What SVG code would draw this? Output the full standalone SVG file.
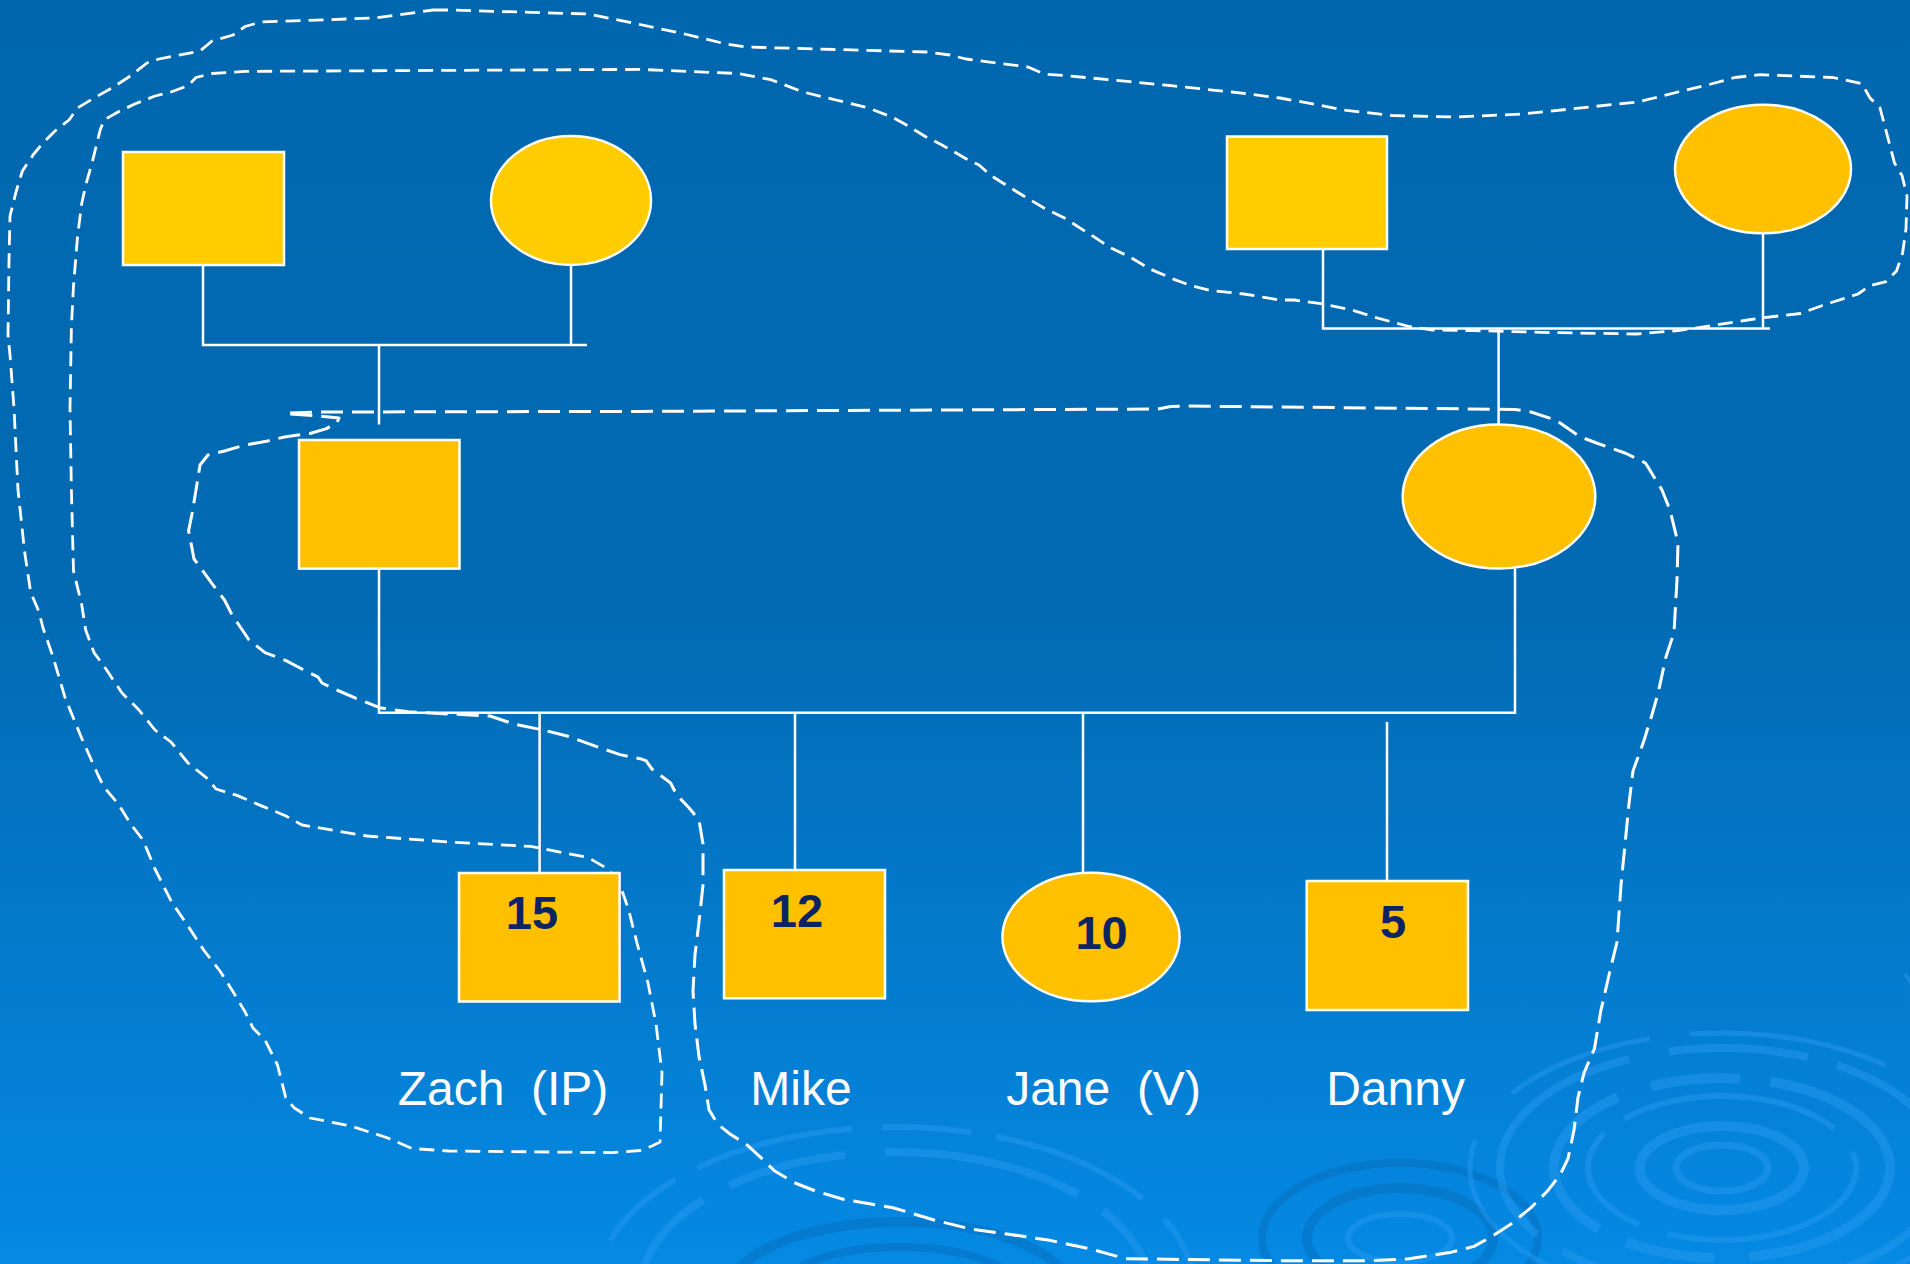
<svg xmlns="http://www.w3.org/2000/svg" width="1910" height="1264" viewBox="0 0 1910 1264">
  <defs>
    <linearGradient id="bg" x1="0" y1="0" x2="0" y2="1">
      <stop offset="0" stop-color="#0067AF"/>
      <stop offset="0.48" stop-color="#026AB3"/>
      <stop offset="1" stop-color="#0589E3"/>
    </linearGradient>
    <style>
      .male1 { fill: #FFCC00; stroke: #FFFFFF; stroke-width: 2.5; }
      .node { fill: #FFC000; stroke: #FFFFFF; stroke-width: 2.5; }
      .link { stroke: #FFFFFF; stroke-width: 2.5; fill: none; }
      .loopA { fill: none; stroke: #FFFFFF; stroke-width: 2.8; stroke-dasharray: 15 8; stroke-linejoin: round; }
      .loopB { fill: none; stroke: #FFFFFF; stroke-width: 3; stroke-dasharray: 22 9; stroke-linejoin: round; }
      .age { font-family: "Liberation Sans", Arial, sans-serif; font-weight: bold; font-size: 47px; fill: #0D2463; text-anchor: middle; }
      .name { font-family: "Liberation Sans", Arial, sans-serif; font-size: 48px; fill: #FFFFFF; text-anchor: middle; white-space: pre; }
      .rl { fill: none; stroke: #2A9BF2; opacity: 0.45; }
      .rd { fill: none; stroke: #0563B0; opacity: 0.35; }
    </style>
  </defs>

  <!-- background -->
  <rect x="0" y="0" width="1910" height="1264" fill="url(#bg)"/>

  <!-- water ripples -->
  <g id="ripples">
    <ellipse class="rl" cx="895" cy="1292" rx="300" ry="165" stroke-width="6" stroke-dasharray="160 30 90 25"/>
    <ellipse class="rl" cx="895" cy="1292" rx="255" ry="140" stroke-width="8" stroke-dasharray="120 40 200 30"/>
    <ellipse class="rd" cx="900" cy="1292" rx="170" ry="70" stroke-width="10"/>
    <ellipse class="rd" cx="900" cy="1292" rx="120" ry="45" stroke-width="8"/>
    <ellipse class="rd" cx="1400" cy="1238" rx="138" ry="75" stroke-width="8"/>
    <ellipse class="rd" cx="1400" cy="1238" rx="93" ry="50" stroke-width="10"/>
    <ellipse class="rl" cx="1400" cy="1238" rx="52" ry="24" stroke-width="6"/>
    <ellipse class="rl" cx="1722" cy="1168" rx="46" ry="23" stroke-width="7"/>
    <ellipse class="rl" cx="1722" cy="1168" rx="82" ry="42" stroke-width="10"/>
    <ellipse class="rl" cx="1722" cy="1168" rx="134" ry="72" stroke-width="6" stroke-dasharray="220 30 120 25"/>
    <ellipse class="rl" cx="1722" cy="1168" rx="168" ry="90" stroke-width="10" stroke-dasharray="180 35 90 30"/>
    <ellipse class="rl" cx="1722" cy="1168" rx="222" ry="120" stroke-width="8" stroke-dasharray="260 40 140 30"/>
    <ellipse class="rl" cx="1722" cy="1168" rx="252" ry="135" stroke-width="5" stroke-dasharray="200 60 150 40"/>
    <path class="rl" d="M1905,974 L1912,984" stroke-width="4"/>
  </g>

  <!-- dashed grouping outlines -->
  <g id="outlines">
    <path class="loopA" d="M433,10 L449,10 L588,14 L640,24.5 L689,35 L726,44 L746,47 L926,52 L950,55 L966,59 L1028,67 L1044,74 L1064,75.5 L1130,81.6 L1171,85.7 L1232,92 L1280,98 L1319,105 L1343,110 L1392,115.5 L1454,117 L1523,114 L1637,102 L1654,98 L1678,92 L1711,84 L1735,77.5 L1760,74.7 L1833,77.5 L1862,83.7 L1870,98 L1880,108 L1886,130.6 L1894.5,163 L1902,175.5 L1907,196 L1906,228.6 L1902.6,253 L1896.5,271 L1886,281.6 L1870,285.7 L1858,294 L1833,302 L1821,306 L1800.6,313.5 L1764,317.6 L1747.6,320 L1711,325.7 L1678,330.6 L1637,334 L1556,332.7 L1474,330.6 L1433,330 L1409,326.5 L1376,317.6 L1351.6,310 L1323,304 L1294.5,300 L1280,300 L1244,294 L1211,290.6 L1191,285.7 L1174.7,279.6 L1150,269 L1130,257 L1109,247 L1097,238.8 L1081,228.6 L1064.5,218 L1044,208 L1023.7,196 L1007,185.7 L991,175.5 L979,165 L966.5,159 L942,145 L925.7,136.7 L909,126.5 L893,117.5 L868.6,108 L836,100 L803,92 L770.6,79.6 L738,73.5 L640,69.4 L245,71.4 L212,73.5 L196,77.5 L188,85.7 L171,92 L155,96 L134.7,104 L118,112 L104,120 L100,130.6 L96,147 L92,163 L86,184 L81.6,204 L77.5,237 L73.5,286 L71.4,326.5 L70,408 L71.4,490 L73.5,571 L81.6,604 L85.7,630 L94,652.6 L106,669 L122,693 L139,710 L155,730 L171,742 L188,763 L208,779 L216,789 L237,795.4 L261,805.6 L286,816 L302,825 L367,836 L449,842 L530.6,846.4 L588,857.5 L608,869 L620,885 L628.6,909.7 L636.7,942 L648,983 L656,1024 L662,1073 L660,1142 L652,1146 L640,1150.5 L612,1152.6 L449,1151 L412,1148.5 L387.8,1138 L351,1126 L310,1118 L294,1107.7 L285.7,1097.5 L277.5,1065 L265,1040 L253,1028 L245,1011.8 L232.6,991 L220,971 L204,950.5 L188,926 L171.4,901.6 L155,869 L143,840 L130.6,824 L118,803.6 L104,787 L98,775 L81.6,738 L65,697.5 L53,656.7 L43,628 L39,612 L30.6,592 L24.5,551 L18,490 L14,408 L10,355 L8,335 L9,261 L10,216 L16,192 L22.4,171 L33,155 L43,143 L55,131 L69,120 L77.5,108 L94,98 L112,88 L131,75.5 L147,63 L159,59 L200,51 L212,41 L233,35 L245,26.5 L261,22 L375,18 L394,15.5 Z"/>
    <path class="loopB" d="M290,413 L320,412 L640,411.4 L1158,409 L1170.6,406.5 L1183,406 L1280,407 L1515,409.4 L1531,412 L1555.7,420 L1580,436.7 L1596.5,443 L1625,453 L1645.5,463 L1662,490 L1670,510 L1678,543 L1677,579.6 L1674,632.6 L1666,656.7 L1658,693.4 L1651.6,716 L1643.5,742 L1633,771 L1629,803.6 L1625,844.4 L1621,885 L1617,942 L1609,975 L1600.6,1011.8 L1594.5,1048.5 L1584,1073 L1578,1097.5 L1574,1130 L1568,1158.7 L1560,1175 L1547.5,1191 L1531,1207.7 L1511,1224 L1492.5,1236 L1474,1246.4 L1449.6,1252.6 L1409,1258.7 L1372,1260.7 L1280,1260.7 L1125.7,1258.7 L1089,1248.5 L1048,1240 L1007,1234 L970.6,1229 L934,1220 L893,1207.7 L844,1199.5 L815.5,1191 L795,1183 L774.7,1171 L762,1158.7 L746,1144 L730,1134 L717.6,1124 L709,1109.7 L705,1085 L699,1056.6 L695,1024 L693,991 L695,954.6 L699,922 L703,885 L703,844 L699,820 L689,807.7 L676.7,795 L670.6,783 L660,775 L652,769 L646,760.7 L640,758.7 L620,754.6 L596,746.4 L567,736 L543,730 L514,724 L490,716 L449,714 L408,711.8 L379.6,707.7 L359,699.5 L339,691 L322,683 L318,677 L302,669 L286,660.7 L265,652.6 L249,640 L241,628 L232.6,616 L224.5,600 L212,583.7 L200,567 L194,559 L188.6,530.6 L192,514 L196,490 L200,465 L208,455 L224.5,451 L245,445 L265,441.6 L285.7,436.7 L310,433.5 L326.5,428.6 L337,422.4 L339,418 L314,415.5 L290,414"/>
  </g>

  <!-- family lines -->
  <g id="connectors">
    <path class="link" d="M203,265 V345 H587 M571,265 V345 M379,345 V424.5"/>
    <path class="link" d="M1323,233.5 V328.6 H1770 M1763,233 V328.6 M1498.6,328.6 V424.5"/>
    <path class="link" d="M379,568.6 V712.8 H1515 V568.6"/>
    <path class="link" d="M539.6,712.8 V872 M795,712.8 V870 M1083,712.8 V872 M1387,722 V881"/>
  </g>

  <!-- grandparents -->
  <g id="grandfather-paternal"><rect class="male1" x="123" y="152" width="161" height="113"/></g>
  <g id="grandmother-paternal"><ellipse class="male1" cx="571" cy="200.5" rx="80" ry="64.5"/></g>
  <g id="grandfather-maternal"><rect class="male1" x="1227" y="136.5" width="160" height="112.5"/></g>
  <g id="grandmother-maternal"><ellipse class="node" cx="1763" cy="169" rx="88" ry="64.3"/></g>

  <!-- parents -->
  <g id="father"><rect class="node" x="299" y="440" width="160.5" height="128.6"/></g>
  <g id="mother"><ellipse class="node" cx="1499" cy="496.5" rx="96.3" ry="72"/></g>

  <!-- children -->
  <g id="zach">
    <rect class="node" x="459" y="873" width="160.6" height="128.5"/>
    <text class="age" x="532" y="929">15</text>
    <text class="name" x="503" y="1105">Zach  (IP)</text>
  </g>
  <g id="mike">
    <rect class="node" x="724" y="870" width="161" height="128.3"/>
    <text class="age" x="797" y="927">12</text>
    <text class="name" x="801" y="1105">Mike</text>
  </g>
  <g id="jane">
    <ellipse class="node" cx="1091" cy="937" rx="88.6" ry="64.3"/>
    <text class="age" x="1101.6" y="948.5">10</text>
    <text class="name" x="1103.5" y="1105">Jane  (V)</text>
  </g>
  <g id="danny">
    <rect class="node" x="1306.7" y="881" width="161.3" height="129"/>
    <text class="age" x="1393" y="938">5</text>
    <text class="name" x="1395.5" y="1105">Danny</text>
  </g>
</svg>
